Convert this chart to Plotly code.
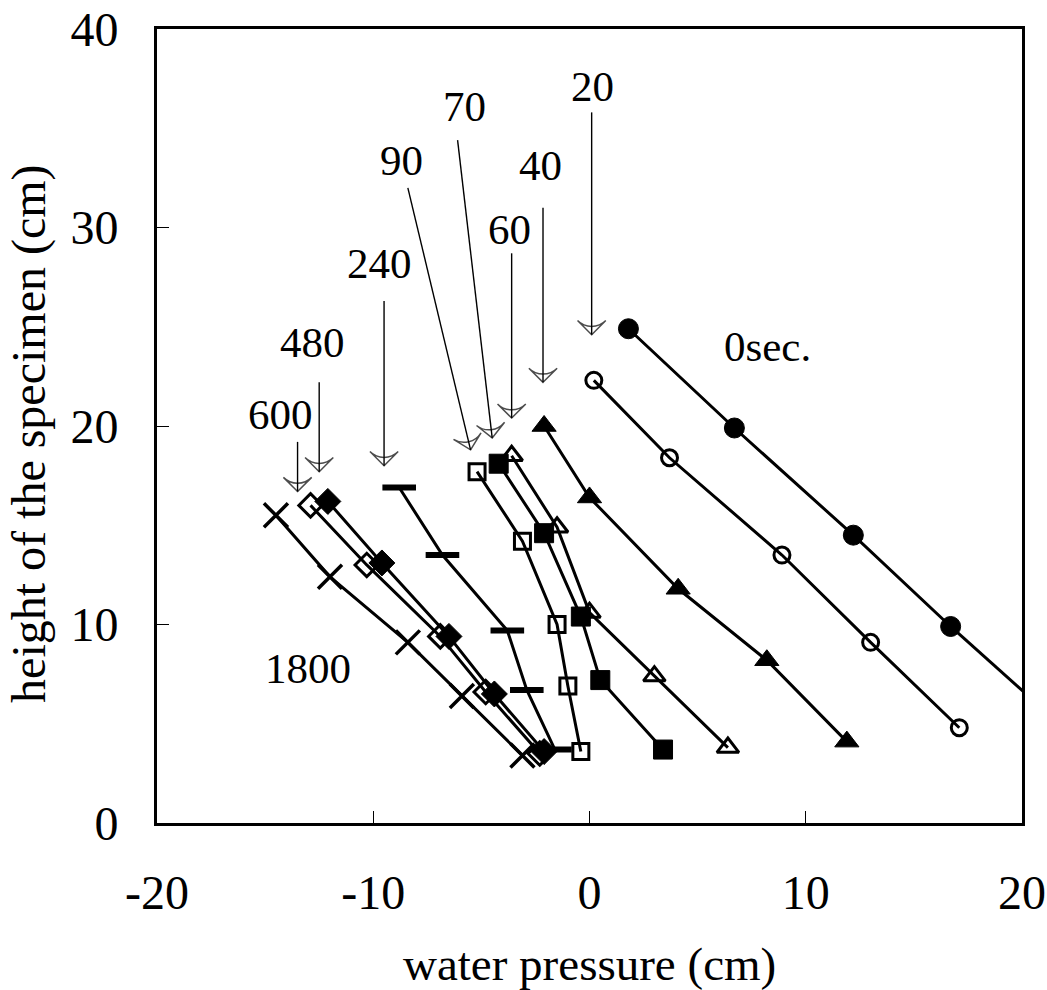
import plotly.graph_objects as go

FONT = "Liberation Serif, Times New Roman, serif"

# ---- data ----
t0_x = [1.8, 6.7, 12.2, 16.7]
t0_y = [24.9, 19.9, 14.5, 9.9]
t0_ext_x = [16.7, 20.6]          # fitted line continuing past the last point
t0_ext_y = [9.9, 6.1]

t20_x = [0.2, 3.7, 8.9, 13.0, 17.1]
t20_y = [22.3, 18.4, 13.5, 9.1, 4.8]

t40_x = [-2.1, 0.0, 4.1, 8.2, 11.9]
t40_y = [20.0, 16.4, 11.8, 8.2, 4.1]

t60_x = [-3.6, -1.5, 0.0, 3.0, 6.4]
t60_y = [18.5, 14.9, 10.6, 7.4, 3.8]

t70_x = [-4.2, -2.1, -0.4, 0.5, 3.4]
t70_y = [18.1, 14.6, 10.4, 7.2, 3.7]

t90_x = [-5.2, -3.1, -1.5, -1.0, -0.4]
t90_y = [17.7, 14.2, 10.0, 6.9, 3.6]

t240_x = [-8.8, -6.8, -3.8, -2.9, -1.6]
t240_y = [16.9, 13.5, 9.7, 6.7, 3.7]

t480_x = [-12.1, -9.6, -6.5, -4.4, -2.1]
t480_y = [16.2, 13.1, 9.4, 6.5, 3.6]

t600_x = [-12.9, -10.3, -6.9, -4.8, -2.3]
t600_y = [16.0, 13.0, 9.4, 6.6, 3.5]

t1800_x = [-14.5, -12.0, -8.4, -5.9, -3.1]
t1800_y = [15.5, 12.4, 9.1, 6.4, 3.4]

# labels: text, text position, arrow tail, arrow head
label_text = ["20", "40", "60", "70", "90", "240", "480", "600"]
label_x = [0.15, -2.25, -3.7, -5.8, -8.7, -9.7, -12.8, -14.3]
label_y = [37.1, 33.1, 29.9, 36.1, 33.4, 28.2, 24.2, 20.6]
tail_x = [0.1, -2.15, -3.6, -6.1, -8.4, -9.5, -12.5, -13.5]
tail_y = [35.8, 31.0, 28.7, 34.4, 32.0, 26.3, 22.2, 19.2]
head_x = [0.1, -2.15, -3.6, -4.5, -5.5, -9.5, -12.5, -13.5]
head_y = [24.6, 22.2, 20.4, 19.4, 18.8, 18.0, 17.7, 16.7]

free_text = ["0sec.", "1800"]
free_x = [8.25, -13.0]
free_y = [24.0, 7.8]

x_ticks = [-20, -10, 0, 10, 20]
y_ticks = [0, 10, 20, 30, 40]

x_title = "water pressure (cm)"
y_title = "height of the specimen (cm)"

# ---- figure ----
fig = go.Figure()
LW = 3

def series(x, y, symbol, size, lw=3, name=""):
    fig.add_trace(go.Scatter(
        x=x, y=y, mode="lines+markers", name=name,
        line=dict(color="black", width=LW),
        marker=dict(symbol=symbol, size=size, color="black",
                    line=dict(color="black", width=lw)),
        showlegend=False, cliponaxis=False))

fig.add_trace(go.Scatter(x=t0_ext_x, y=t0_ext_y, mode="lines",
                         line=dict(color="black", width=LW), showlegend=False))

series(t1800_x, t1800_y, "x-thin", 24, 3.5, "1800")
series(t600_x, t600_y, "diamond-open", 18, 3, "600")
series(t480_x, t480_y, "diamond", 20, 1, "480")
series(t240_x, t240_y, "line-ew", 24, 6, "240")
series(t90_x, t90_y, "square-open", 16, 3, "90")
series(t60_x, t60_y, "triangle-up-open", 19, 3, "60")
series(t70_x, t70_y, "square", 19, 1, "70")
series(t40_x, t40_y, "triangle-up", 21, 1, "40")
series(t20_x, t20_y, "circle-open", 16, 3, "20")
series(t0_x, t0_y, "circle", 20, 1, "0")

# arrows
for i in range(len(label_text)):
    fig.add_trace(go.Scatter(
        x=[tail_x[i], head_x[i]], y=[tail_y[i], head_y[i]],
        mode="lines+markers",
        line=dict(color="black", width=1.4),
        marker=dict(symbol="arrow-wide-open", size=[0, 20], angleref="previous",
                    color="black", line=dict(color="black", width=1.5)),
        showlegend=False, cliponaxis=False))
    fig.add_annotation(x=label_x[i], y=label_y[i], text=label_text[i],
                       showarrow=False, font=dict(family=FONT, size=43, color="black"))

for t, x, y in zip(free_text, free_x, free_y):
    fig.add_annotation(x=x, y=y, text=t, showarrow=False,
                       font=dict(family=FONT, size=43, color="black"))

# axis titles
fig.add_annotation(xref="paper", yref="paper", x=0.5, y=-0.177, yanchor="middle",
                   text=x_title, showarrow=False,
                   font=dict(family=FONT, size=47, color="black"))
fig.add_annotation(xref="paper", yref="paper", x=-0.148, xanchor="center",
                   y=0.49, yanchor="middle", textangle=-90,
                   text=y_title, showarrow=False,
                   font=dict(family=FONT, size=48, color="black"))

axis_common = dict(
    showgrid=False, zeroline=False, showline=True, mirror=True,
    linecolor="black", linewidth=3, ticks="inside", ticklen=12,
    tickwidth=1, tickcolor="black", automargin=False,
    tickfont=dict(family=FONT, size=48, color="black"),
)

fig.update_xaxes(range=[-20, 20], tickvals=x_ticks, ticktext=[str(v) for v in x_ticks],
                 ticklabelstandoff=25, ticklabeloverflow="allow", **axis_common)
fig.update_yaxes(range=[0, 40], tickvals=y_ticks, ticktext=[str(v) for v in y_ticks],
                 ticklabelstandoff=26, ticklabeloverflow="allow", **axis_common)

fig.update_layout(
    width=1047, height=990,
    margin=dict(l=157, r=25, t=29, b=167),
    paper_bgcolor="white", plot_bgcolor="white",
    font=dict(family=FONT, color="black"),
)

fig.write_html("out.html")
